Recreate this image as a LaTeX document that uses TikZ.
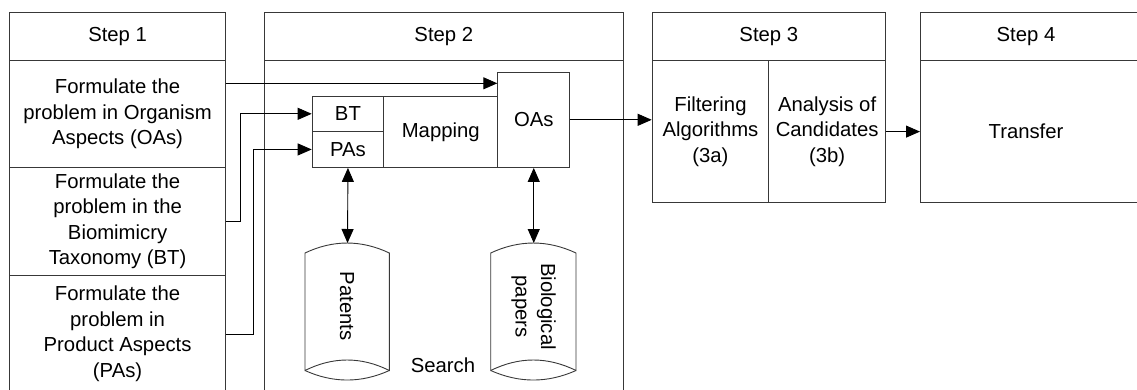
\documentclass[tikz,border=0pt]{standalone}
\usepackage{fontspec}
\setmainfont{Liberation Sans}
\usetikzlibrary{arrows.meta,calc}
\begin{document}
\begin{tikzpicture}[x=1pt,y=-1pt,
  line width=0.9pt,
  cell/.style={draw=black!78, rectangle, inner sep=0pt, anchor=north west, align=center, font=\fontsize{20.3}{25.5}\selectfont},
  txt/.style={inner sep=0pt, align=center, font=\fontsize{20.3}{25.5}\selectfont},
  arr/.style={draw=black, -{Triangle[length=14pt,width=12pt]}},
  darr/.style={draw=black, {Triangle[length=14pt,width=12pt]}-{Triangle[length=14pt,width=12pt]}},
  db/.style={draw=black!78}]
\useasboundingbox (0,0) rectangle (1137,389);
\clip (0,0) rectangle (1137,389);
% Step 1
\node[cell, minimum width=215.7, minimum height=47.7] (s1h) at (9.3,12.3) {Step 1};
\node[cell, minimum width=215.7, minimum height=107] (s1r1) at (9.3,60) {Formulate the\\problem in Organism\\Aspects (OAs)};
\node[cell, minimum width=215.7, minimum height=108] (s1r2) at (9.3,167) {Formulate the\\problem in the\\Biomimicry\\Taxonomy (BT)};
\node[cell, minimum width=215.7, minimum height=117] (s1r3) at (9.3,275) {Formulate the\\problem in\\Product Aspects\\(PAs)};
% Step 2
\node[cell, minimum width=358.7, minimum height=47.7] (s2h) at (264,12.3) {Step 2};
\node[cell, minimum width=358.7, minimum height=345] (s2b) at (264,60) {};
\node[txt] (search) at (443,365) {Search};
\node[cell, minimum width=71.6, minimum height=35.3] (bt) at (311.7,95.7) {BT};
\node[cell, minimum width=71.6, minimum height=36] (pas) at (311.7,131) {PAs};
\node[cell, minimum width=114, minimum height=71.3] (map) at (383.3,95.7) {Mapping};
\node[cell, minimum width=72, minimum height=95.3] (oas) at (497.3,71.7) {OAs};
% Step 3
\node[cell, minimum width=233.3, minimum height=47.7] (s3h) at (651.7,12.3) {Step 3};
\node[cell, minimum width=116.6, minimum height=142.3] (s3a) at (651.7,60) {Filtering\\Algorithms\\(3a)};
\node[cell, minimum width=116.7, minimum height=142.3] (s3b) at (768.3,60) {Analysis of\\Candidates\\(3b)};
% Step 4
\node[cell, minimum width=240, minimum height=47.7] (s4h) at (920,12.3) {};
\node[txt] (s4t) at (1026,36.2) {Step 4};
\node[cell, minimum width=240, minimum height=142.3] (s4b) at (920,60) {};
\node[txt] (s4bt) at (1026,131.2) {Transfer};
% databases
\draw[db] (305,253) .. controls (333,239.7) and (361.3,239.7) .. (389.3,253)
  -- (389.3,370.5) .. controls (361.3,356.5) and (333,356.5) .. (305,370.5) -- cycle;
\draw[db] (305,370.5) .. controls (333,383.2) and (361.3,383.2) .. (389.3,370.5);
\draw[db] (490.7,253) .. controls (519.2,239.7) and (547.5,239.7) .. (576,253)
  -- (576,370.5) .. controls (547.5,356.5) and (519.2,356.5) .. (490.7,370.5) -- cycle;
\draw[db] (490.7,370.5) .. controls (519.2,383.2) and (547.5,383.2) .. (576,370.5);
\node[txt, rotate=-90] (pat) at (347,306) {Patents};
\node[txt, rotate=-90] (bio) at (533.5,306.5) {Biological\\papers};
\coordinate (pattop) at (347.5,243);
\coordinate (biotop) at (533.3,243);
% connectors
\coordinate (y1) at (0,83.3);
\draw[arr] (s1r1.east |- y1) -- (oas.west |- y1);
\draw[arr] (s1r2.east) -- ++(14.3,0) |- (bt.west);
\draw[arr] (s1r3.east) -- ++(27.7,0) |- (pas.west);
\draw[arr] (oas.east) -- (oas.east -| s3a.west);
\draw[arr] (s3b.east) -- (s4b.west);
\draw[darr] (pas.south) -- (pattop);
\draw[darr] (oas.south) -- (oas.south |- biotop);
\end{tikzpicture}
\end{document}
